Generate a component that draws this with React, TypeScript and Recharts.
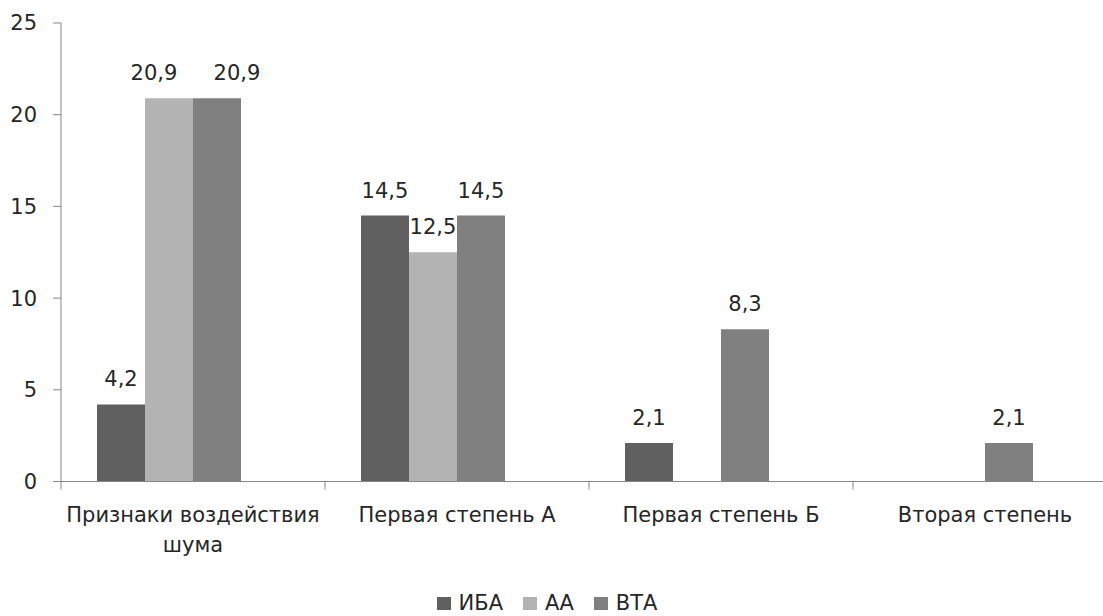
import { BarChart, Bar, XAxis, YAxis, Legend, LabelList } from 'recharts';

const categories = ['Признаки воздействия шума', 'Первая степень А', 'Первая степень Б', 'Вторая степень'];
const seriesNames = ['ИБА', 'АА', 'ВТА'];
const iba = [4.2, 14.5, 2.1, null];
const aa = [20.9, 12.5, null, null];
const vta = [20.9, 14.5, 8.3, 2.1];
// fourth slot of each group stays empty
const spare = [null, null, null, null];
const yTicks = [0, 5, 10, 15, 20, 25];

const data = categories.map((name, i) => ({
    name,
    iba: iba[i],
    aa: aa[i],
    vta: vta[i],
    spare: spare[i],
}));

const FONT = '"DejaVu Sans", sans-serif';
const TEXT = '#262626';
const AXIS = '#868686';

const CHART_W = 1130;
const CHART_H = 616;
const MARGIN = { top: 23, right: 13, left: 0, bottom: 0 };
const Y_W = 61;
const BAND = (CHART_W - MARGIN.left - MARGIN.right - Y_W) / categories.length;

// side-by-side labels of equal height get pushed apart so they don't collide
const labelShift: Record<string, number[]> = {
    iba: [0, 0, 0, 0],
    aa: [-15, 0, 0, 0],
    vta: [20, 0, 0, 0],
};

const fmt = (v: any) => (v === null || v === undefined ? '' : String(v).replace('.', ','));

const wrap = (label: string, maxChars: number) => {
    const lines: string[] = [];
    let cur = '';
    label.split(' ').forEach((w) => {
        const next = cur ? cur + ' ' + w : w;
        if (next.length > maxChars && cur) {
            lines.push(cur);
            cur = w;
        } else {
            cur = next;
        }
    });
    if (cur) lines.push(cur);
    return lines;
};

const CategoryTick = (props: any) => {
    const { x, y, payload, index } = props;
    const lines = wrap(String(payload.value), 20);
    return (
        <g>
            <line x1={x - BAND / 2} x2={x - BAND / 2} y1={y} y2={y + 8} stroke={AXIS} />
            {index === categories.length - 1 && (
                <line x1={x + BAND / 2} x2={x + BAND / 2} y1={y} y2={y + 8} stroke={AXIS} />
            )}
            <text x={x} y={y + 40} textAnchor="middle" fill={TEXT} style={{ fontSize: 21, fontFamily: FONT }}>
                {lines.map((l, i) => (
                    <tspan key={i} x={x} dy={i === 0 ? 0 : 30}>{l}</tspan>
                ))}
            </text>
        </g>
    );
};

const valueLabel = (key: string) => (props: any) => {
    const { x, y, width, value, index } = props;
    if (value === null || value === undefined) return null;
    const dx = labelShift[key][index] || 0;
    return (
        <text x={x + width / 2 + dx} y={y - 18} textAnchor="middle" fill={TEXT} style={{ fontSize: 21, fontFamily: FONT }}>
            {fmt(value)}
        </text>
    );
};

const LegendContent = (props: any) => {
    const items = (props.payload || [])
        .filter((p: any) => p.type !== 'none')
        .sort((a: any, b: any) => seriesNames.indexOf(a.value) - seriesNames.indexOf(b.value));
    return (
        <div style={{ display: 'flex', justifyContent: 'center', alignItems: 'center', fontFamily: FONT, fontSize: 21, lineHeight: '16px', color: TEXT }}>
            {items.map((p: any) => (
                <div key={p.value} style={{ display: 'flex', alignItems: 'center', marginRight: 20 }}>
                    <span style={{ width: 14, height: 13, background: p.color, marginRight: 8, display: 'inline-block' }} />
                    <span>{p.value}</span>
                </div>
            ))}
        </div>
    );
};

const App = () => {
    return (
        <div style={{ position: 'absolute', left: 0, top: 0, width: 1103, height: 616, overflow: 'hidden', background: '#fff', fontFamily: FONT }}>
            <BarChart width={CHART_W} height={CHART_H} data={data} margin={MARGIN} barGap={0} barCategoryGap={36}>
                <YAxis
                    domain={[0, 25]}
                    ticks={yTicks}
                    width={Y_W}
                    tickSize={8}
                    tickMargin={16}
                    axisLine={{ stroke: AXIS }}
                    tickLine={{ stroke: AXIS }}
                    tick={{ fill: TEXT, fontSize: 21, fontFamily: FONT }}
                />
                <XAxis
                    dataKey="name"
                    height={CHART_H - 481.5 - MARGIN.bottom}
                    tickSize={0}
                    tickMargin={0}
                    tickLine={false}
                    axisLine={{ stroke: AXIS }}
                    interval={0}
                    tick={<CategoryTick />}
                />
                <Legend
                    layout="horizontal"
                    verticalAlign="middle"
                    align="center"
                    content={<LegendContent />}
                    wrapperStyle={{ left: 0, top: 595, width: 1094 + 20, height: 16 }}
                />
                <Bar dataKey="iba" name={seriesNames[0]} fill="#606060" isAnimationActive={false}>
                    <LabelList dataKey="iba" content={valueLabel('iba')} />
                </Bar>
                <Bar dataKey="aa" name={seriesNames[1]} fill="#b3b3b3" isAnimationActive={false}>
                    <LabelList dataKey="aa" content={valueLabel('aa')} />
                </Bar>
                <Bar dataKey="vta" name={seriesNames[2]} fill="#808080" isAnimationActive={false}>
                    <LabelList dataKey="vta" content={valueLabel('vta')} />
                </Bar>
                <Bar dataKey="spare" legendType="none" fill="#ffffff" isAnimationActive={false} />
            </BarChart>
        </div>
    );
};

export default App;
